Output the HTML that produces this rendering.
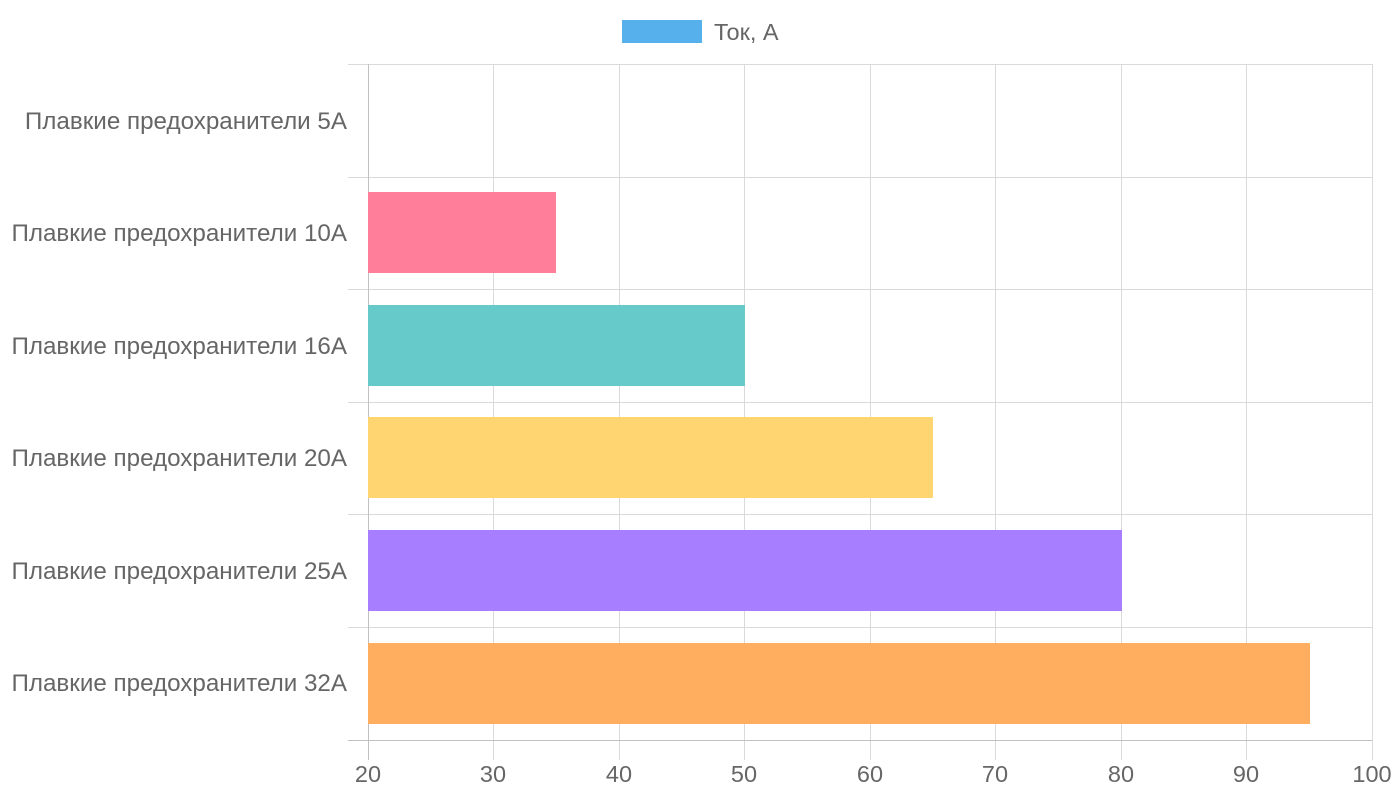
<!DOCTYPE html>
<html><head><meta charset="utf-8"><style>
body{margin:0;background:#fff;}
svg{display:block;font-family:"Liberation Sans",sans-serif;}
</style></head><body>
<svg width="1400" height="800" viewBox="0 0 1400 800">
<rect x="622" y="20" width="80" height="23" fill="#56b0ec"/>
<text x="714" y="40" font-size="23.5" fill="#666">Ток, А</text>
<g stroke="#dadada" stroke-width="1">
<line x1="348" y1="64.5" x2="1372" y2="64.5"/>
<line x1="348" y1="177.5" x2="1372" y2="177.5"/>
<line x1="348" y1="289.5" x2="1372" y2="289.5"/>
<line x1="348" y1="402.5" x2="1372" y2="402.5"/>
<line x1="348" y1="514.5" x2="1372" y2="514.5"/>
<line x1="348" y1="627.5" x2="1372" y2="627.5"/>
<line x1="493.5" y1="64" x2="493.5" y2="760"/>
<line x1="619.5" y1="64" x2="619.5" y2="760"/>
<line x1="744.5" y1="64" x2="744.5" y2="760"/>
<line x1="870.5" y1="64" x2="870.5" y2="760"/>
<line x1="995.5" y1="64" x2="995.5" y2="760"/>
<line x1="1121.5" y1="64" x2="1121.5" y2="760"/>
<line x1="1246.5" y1="64" x2="1246.5" y2="760"/>
<line x1="1372.5" y1="64" x2="1372.5" y2="760"/>
</g>
<g stroke="#c0c0c0">
<line x1="368.5" y1="64" x2="368.5" y2="760"/>
<line x1="348" y1="740.5" x2="1372" y2="740.5"/>
</g>
<rect x="368" y="192" width="188" height="81" fill="#ff7f9b"/>
<rect x="368" y="305" width="377" height="81" fill="#66c9ca"/>
<rect x="368" y="417" width="565" height="81" fill="#ffd572"/>
<rect x="368" y="530" width="754" height="81" fill="#a77eff"/>
<rect x="368" y="643" width="942" height="81" fill="#ffae5f"/>
<g font-size="24.2" fill="#666" text-anchor="end">
<text x="347" y="129">Плавкие предохранители 5А</text>
<text x="347" y="241">Плавкие предохранители 10А</text>
<text x="347" y="354">Плавкие предохранители 16А</text>
<text x="347" y="466">Плавкие предохранители 20А</text>
<text x="347" y="579">Плавкие предохранители 25А</text>
<text x="347" y="691">Плавкие предохранители 32А</text>
</g>
<g font-size="23.5" fill="#666" text-anchor="middle">
<text x="368" y="782">20</text>
<text x="493" y="782">30</text>
<text x="619" y="782">40</text>
<text x="744" y="782">50</text>
<text x="870" y="782">60</text>
<text x="995" y="782">70</text>
<text x="1121" y="782">80</text>
<text x="1246" y="782">90</text>
<text x="1372" y="782">100</text>
</g>
</svg>
</body></html>
